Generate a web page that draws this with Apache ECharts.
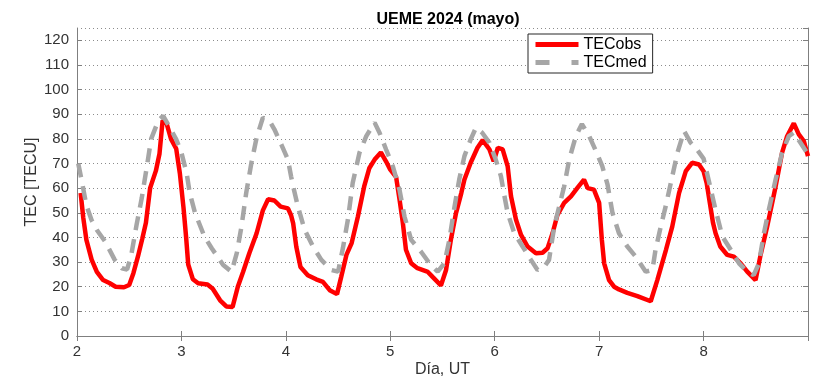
<!DOCTYPE html>
<html>
<head>
<meta charset="utf-8">
<script src="https://cdn.jsdelivr.net/npm/echarts@6/dist/echarts.min.js"></script>
<style>
  html, body { margin: 0; padding: 0; background: #fff; }
  #chart { width: 814px; height: 379px; }
</style>
</head>
<body>
<div id="chart"></div>
<script>
// TEC observado (dia, TECU)
const obsDay = [2.035, 2.06, 2.09, 2.14, 2.19, 2.25, 2.31, 2.37, 2.45, 2.50, 2.54, 2.585, 2.625, 2.66, 2.70, 2.755, 2.79, 2.82, 2.86, 2.90, 2.95, 2.985, 3.02, 3.045, 3.065, 3.11, 3.16, 3.25, 3.30, 3.37, 3.43, 3.49, 3.54, 3.59, 3.65, 3.72, 3.78, 3.83, 3.89, 3.95, 4.02, 4.05, 4.07, 4.10, 4.14, 4.21, 4.29, 4.355, 4.42, 4.49, 4.53, 4.58, 4.63, 4.69, 4.75, 4.80, 4.85, 4.91, 4.96, 5.0, 5.056, 5.09, 5.12, 5.15, 5.2, 5.26, 5.36, 5.405, 5.485, 5.534, 5.58, 5.63, 5.68, 5.71, 5.77, 5.835, 5.885, 5.95, 5.99, 6.03, 6.076, 6.124, 6.156, 6.204, 6.252, 6.315, 6.395, 6.458, 6.506, 6.554, 6.601, 6.665, 6.73, 6.79, 6.855, 6.89, 6.95, 7.0, 7.026, 7.048, 7.095, 7.143, 7.19, 7.27, 7.366, 7.494, 7.557, 7.64, 7.70, 7.765, 7.83, 7.89, 7.956, 8.0, 8.03, 8.06, 8.09, 8.115, 8.16, 8.227, 8.29, 8.355, 8.418, 8.498, 8.546, 8.609, 8.69, 8.752, 8.80, 8.864, 8.912, 8.96, 9.0];
const obsTec = [58, 48, 39, 31, 26, 22.7, 21.5, 20, 19.8, 20.7, 25.5, 32.5, 39.5, 46, 60, 67, 74, 87.5, 86, 80, 76, 66, 52, 40, 29, 23, 21.4, 20.9, 19.2, 14.5, 12, 11.8, 20, 26, 33.6, 41.7, 51, 55.5, 55, 52.5, 51.8, 49, 45.7, 36.2, 28, 24.7, 23, 22, 18.6, 17, 24, 32.9, 37.7, 48.5, 60.7, 68.2, 71.6, 74.5, 70.8, 67.5, 64.5, 55, 46, 35, 29.5, 27.5, 26, 24, 20.5, 26.8, 39, 50, 58, 63.5, 70.3, 76.4, 79.5, 75.7, 70.9, 76.4, 75.7, 68.9, 56.7, 47.2, 41, 36.3, 33.6, 33.8, 35.6, 41.7, 49.2, 54, 56.7, 60, 63.5, 60, 59.4, 54, 39, 29.5, 22.7, 20, 18.9, 17.5, 16.2, 14.1, 22.7, 35, 44.4, 58, 66.9, 70.3, 69.6, 66.9, 62, 54, 46, 41.7, 36.3, 32.9, 32.2, 29.5, 26.1, 22.7, 32.9, 44.4, 60.7, 74.4, 81.1, 86.3, 81.8, 79.1, 73];

// TEC mediana
const medDay = [2.012, 2.05, 2.09, 2.14, 2.19, 2.27, 2.36, 2.43, 2.48, 2.52, 2.57, 2.62, 2.67, 2.71, 2.78, 2.825, 2.89, 2.95, 3.0, 3.05, 3.08, 3.13, 3.22, 3.29, 3.40, 3.48, 3.53, 3.575, 3.62, 3.67, 3.72, 3.78, 3.845, 3.89, 3.957, 4.02, 4.05, 4.07, 4.115, 4.18, 4.26, 4.34, 4.436, 4.50, 4.546, 4.594, 4.64, 4.705, 4.77, 4.85, 4.897, 4.96, 5.024, 5.07, 5.088, 5.136, 5.2, 5.295, 5.375, 5.454, 5.518, 5.566, 5.61, 5.66, 5.71, 5.77, 5.82, 5.88, 5.95, 6.01, 6.06, 6.09, 6.124, 6.188, 6.267, 6.347, 6.41, 6.474, 6.52, 6.57, 6.665, 6.713, 6.777, 6.835, 6.905, 6.97, 7.03, 7.08, 7.128, 7.19, 7.27, 7.35, 7.446, 7.51, 7.54, 7.59, 7.637, 7.70, 7.75, 7.813, 7.877, 7.94, 8.0, 8.05, 8.115, 8.18, 8.26, 8.34, 8.418, 8.48, 8.53, 8.578, 8.625, 8.69, 8.752, 8.816, 8.864, 8.928, 8.99];
const medTec = [70, 62, 53, 47, 43, 38.3, 31, 27.5, 27, 33, 45, 56, 69, 80, 87.5, 89.3, 84.5, 79.8, 74.4, 66, 58, 50, 40.4, 35.6, 28.8, 26.1, 33.6, 44.4, 58, 70.3, 80.5, 88.6, 87.2, 83.9, 77.7, 71.6, 64.8, 60.7, 52.6, 43.1, 36.3, 30.9, 26.8, 26.1, 35.6, 47.2, 62.1, 74.4, 81.1, 86.6, 82.5, 75.7, 68.9, 62.1, 59.4, 48.5, 39, 34.2, 29.5, 26.1, 29.5, 39, 51.2, 63.5, 73, 79.8, 84.5, 82.5, 78.4, 71.6, 64.8, 57.5, 49.9, 41.7, 36.3, 30.9, 26.8, 28.1, 30.9, 44.4, 60.7, 71.6, 81.1, 86, 81.1, 75, 68.9, 61.5, 49.9, 41.7, 36.3, 32.2, 26.1, 26.8, 35, 44.4, 52.6, 64.8, 74.4, 83.2, 78.4, 75.5, 72, 63, 51.2, 40.4, 35, 29.5, 26.1, 24.7, 29.5, 41.7, 51.2, 63.5, 74.4, 81.1, 82.5, 78.4, 74.4];

const font = 'Liberation Sans, Arial, sans-serif';
const boxColor = '#7f7f7f';
const textColor = '#333';

const pairs = (xs, ys) => xs.map((x, i) => [x, ys[i]]);

const chart = echarts.init(document.getElementById('chart'));

chart.setOption({
  animation: false,
  title: {
    text: 'UEME 2024 (mayo)',
    left: 443,
    top: 7,
    textAlign: 'center',
    textStyle: { fontFamily: font, fontSize: 16, fontWeight: 'bold', color: '#000' }
  },
  legend: {
    left: 528,
    top: 34,
    orient: 'vertical',
    padding: [2, 6, 2, 5],
    itemGap: 1,
    itemWidth: 43,
    itemHeight: 14,
    backgroundColor: '#fff',
    borderColor: '#262626',
    borderWidth: 1,
    borderRadius: 0,
    itemStyle: { opacity: 0 },
    lineStyle: { width: 5 },
    textStyle: { fontFamily: font, fontSize: 16, color: '#000', lineHeight: 17 },
    data: [
      { name: 'TECobs' },
      { name: 'TECmed', lineStyle: { width: 5, type: [14, 22] } }
    ]
  },
  grid: { left: 77, right: 6, top: 28, bottom: 43, outerBoundsMode: 'none' },
  xAxis: [
    {
      type: 'value',
      min: 2,
      max: 9,
      interval: 1,
      name: 'Día, UT',
      nameLocation: 'middle',
      nameGap: 26,
      nameMoveOverlap: false,
      nameTextStyle: { fontFamily: font, fontSize: 16, color: textColor },
      axisLine: { lineStyle: { color: boxColor, width: 1 } },
      axisTick: { inside: true, length: 5, lineStyle: { color: boxColor } },
      axisLabel: { fontFamily: font, fontSize: 15, color: textColor, margin: 8, showMaxLabel: false },
      splitLine: { show: false }
    },
    {
      type: 'value',
      position: 'top',
      min: 2,
      max: 9,
      interval: 1,
      axisLine: { lineStyle: { color: boxColor, width: 1 } },
      axisTick: { inside: true, length: 5, lineStyle: { color: boxColor } },
      axisLabel: { show: false },
      splitLine: { show: false }
    }
  ],
  yAxis: [
    {
      type: 'value',
      min: 0,
      max: 125,
      interval: 10,
      name: 'TEC [TECU]',
      nameLocation: 'middle',
      nameGap: 37,
      nameMoveOverlap: false,
      nameTextStyle: { fontFamily: font, fontSize: 16, color: textColor },
      axisLine: { show: true, lineStyle: { color: boxColor, width: 1 } },
      axisTick: { show: true, inside: true, length: 5, lineStyle: { color: boxColor } },
      axisLabel: { fontFamily: font, fontSize: 15, color: textColor, margin: 8, showMaxLabel: false },
      splitLine: { show: true, lineStyle: { color: '#8c8c8c', width: 1, type: [1, 3] } }
    },
    {
      type: 'value',
      position: 'right',
      min: 0,
      max: 125,
      interval: 10,
      axisLine: { show: true, lineStyle: { color: boxColor, width: 1 } },
      axisTick: { show: true, inside: true, length: 5, lineStyle: { color: boxColor } },
      axisLabel: { show: false },
      splitLine: { show: false }
    }
  ],
  series: [
    {
      name: 'TECobs',
      type: 'line',
      data: pairs(obsDay, obsTec),
      showSymbol: false,
      symbol: 'none',
      lineStyle: { color: '#ff0000', width: 4.5 },
      itemStyle: { color: '#ff0000' }
    },
    {
      name: 'TECmed',
      type: 'line',
      data: pairs(medDay, medTec),
      showSymbol: false,
      symbol: 'none',
      lineStyle: { color: '#a6a6a6', width: 4.5, type: [14, 9] },
      itemStyle: { color: '#a6a6a6' }
    }
  ]
});
</script>
</body>
</html>
